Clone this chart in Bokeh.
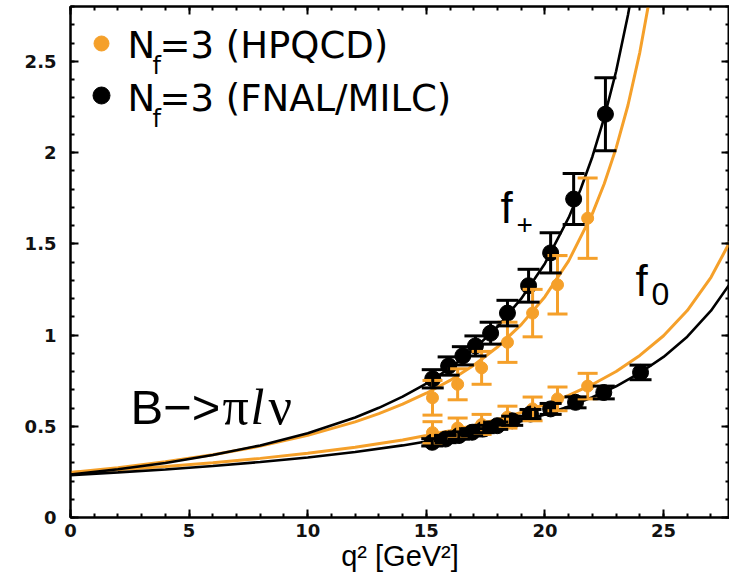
from bokeh.plotting import figure
from bokeh.models import (Range1d, LinearAxis, SingleIntervalTicker, Whisker, ColumnDataSource, Label,
                          TeeHead)
from bokeh.embed import file_html
from bokeh.resources import INLINE

# ---------------- data ----------------
# FNAL/MILC (black) lattice points
fnal_fp_q2 = [15.27, 15.94, 16.54, 17.07, 17.71, 18.42, 19.31, 20.24, 21.21, 22.55]
fnal_fp = [0.76, 0.83, 0.886, 0.94, 1.01, 1.12, 1.27, 1.45, 1.745, 2.21]
fnal_fp_err = [0.05, 0.05, 0.05, 0.055, 0.06, 0.07, 0.09, 0.11, 0.14, 0.20]

fnal_f0_q2 = [15.25, 15.81, 16.37, 16.93, 17.42, 17.99, 18.62, 19.39, 20.24, 21.29, 22.48, 24.03]
fnal_f0 = [0.412, 0.43, 0.449, 0.467, 0.485, 0.503, 0.53, 0.567, 0.595, 0.631, 0.685, 0.795]
fnal_f0_err = [0.02, 0.02, 0.02, 0.02, 0.02, 0.02, 0.025, 0.025, 0.03, 0.03, 0.035, 0.04]

# HPQCD (orange) lattice points
hpqcd_q2 = [15.26, 16.32, 17.33, 18.42, 19.48, 20.53, 21.8]
hpqcd_fp = [0.656, 0.73, 0.82, 0.96, 1.12, 1.275, 1.64]
hpqcd_fp_err = [0.095, 0.085, 0.09, 0.11, 0.13, 0.16, 0.22]
hpqcd_f0 = [0.465, 0.49, 0.51, 0.55, 0.595, 0.65, 0.72]
hpqcd_f0_err = [0.06, 0.055, 0.055, 0.06, 0.065, 0.065, 0.07]

# fit curves
curve_q2_fnal_fp = [0, 2, 4, 6, 8, 10, 12, 13, 14, 15, 16, 17, 18, 19, 20, 21, 21.5, 22, 22.5, 23, 23.5, 23.6]
curve_fnal_fp = [0.235, 0.264, 0.299, 0.342, 0.395, 0.462, 0.548, 0.601, 0.662, 0.734, 0.819, 0.921, 1.045,
                 1.199, 1.392, 1.643, 1.797, 1.977, 2.191, 2.445, 2.754, 2.825]
curve_q2_hpqcd_fp = [0, 2, 4, 6, 8, 10, 12, 13, 14, 15, 16, 17, 18, 19, 20, 21, 22, 22.5, 23, 23.5, 24, 24.4]
curve_hpqcd_fp = [0.246, 0.273, 0.305, 0.344, 0.391, 0.450, 0.524, 0.569, 0.621, 0.681, 0.751, 0.834, 0.934,
                  1.057, 1.210, 1.406, 1.665, 1.829, 2.024, 2.259, 2.549, 2.835]
curve_q2_f0 = [0, 2, 4, 6, 8, 10, 12, 14, 15, 16, 17, 18, 19, 20, 21, 22, 23, 24, 25, 26, 27, 27.8]
curve_fnal_f0 = [0.232, 0.247, 0.263, 0.282, 0.304, 0.329, 0.359, 0.395, 0.416, 0.439, 0.465, 0.494, 0.527,
                 0.565, 0.608, 0.659, 0.719, 0.792, 0.880, 0.991, 1.133, 1.281]
curve_hpqcd_f0 = [0.246, 0.262, 0.280, 0.300, 0.324, 0.352, 0.385, 0.425, 0.449, 0.475, 0.504, 0.537, 0.575,
                  0.619, 0.669, 0.729, 0.800, 0.888, 0.996, 1.134, 1.316, 1.511]

x_ticks = [0, 5, 10, 15, 20, 25]
y_ticks = [0, 0.5, 1, 1.5, 2, 2.5]
y_tick_labels = ["0", "0.5", "1", "1.5", "2", "2.5"]

ORANGE = "#F5A02A"
BLACK = "#000000"

W, H = 729, 579
L, T, B = 70, 6, 62
p = figure(width=W, height=H, output_backend="svg", toolbar_location=None,
           x_range=Range1d(0, 27.78), y_range=Range1d(0, 2.8),
           min_border_left=L, min_border_right=0, min_border_top=T, min_border_bottom=B,
           x_axis_location=None, y_axis_location=None)
p.grid.visible = False
p.outline_line_color = BLACK
p.outline_line_width = 2
p.background_fill_color = "white"
p.border_fill_color = "white"

def style_axis(ax):
    ax.axis_line_width = 2
    ax.axis_line_color = BLACK
    ax.major_tick_in = 8
    ax.major_tick_out = 0
    ax.minor_tick_in = 4
    ax.minor_tick_out = 0
    ax.major_tick_line_width = 2
    ax.minor_tick_line_width = 2
    ax.major_label_text_font = "DejaVu Sans"
    ax.major_label_text_font_style = "bold"
    ax.major_label_text_font_size = "18px"
    ax.major_label_text_color = "#111111"

xb = LinearAxis(ticker=SingleIntervalTicker(interval=5, num_minor_ticks=5))
style_axis(xb)
xb.major_label_standoff = 6
xb.axis_label = "q² [GeV²]"
xb.axis_label_text_font = "Liberation Sans"
xb.axis_label_text_font_style = "normal"
xb.axis_label_text_font_size = "29px"
xb.axis_label_text_color = BLACK
xb.axis_label_standoff = 0
p.add_layout(xb, "below")

yl = LinearAxis(ticker=SingleIntervalTicker(interval=0.5, num_minor_ticks=5))
style_axis(yl)
yl.major_label_standoff = 14
yl.major_label_overrides = {v: s for v, s in zip(y_ticks, y_tick_labels)}
p.add_layout(yl, "left")

# frame ticks on the top and right edges (no labels)
xt = LinearAxis(ticker=SingleIntervalTicker(interval=5, num_minor_ticks=5))
style_axis(xt)
xt.major_label_overrides = {v: "" for v in x_ticks}
xt.major_label_standoff = 0
p.add_layout(xt, "above")
yr = LinearAxis(ticker=SingleIntervalTicker(interval=0.5, num_minor_ticks=5))
style_axis(yr)
yr.major_label_overrides = {v: "" for v in y_ticks}
yr.major_label_standoff = 0
p.add_layout(yr, "right")

# curves
p.line(curve_q2_f0, curve_hpqcd_f0, line_color=ORANGE, line_width=3)
p.line(curve_q2_hpqcd_fp, curve_hpqcd_fp, line_color=ORANGE, line_width=3)
p.line(curve_q2_f0, curve_fnal_f0, line_color=BLACK, line_width=2.6)
p.line(curve_q2_fnal_fp, curve_fnal_fp, line_color=BLACK, line_width=2.6)

def errbars(xs, ys, es, color, size, cap):
    src = ColumnDataSource(dict(x=xs, y=ys, lo=[y - e for y, e in zip(ys, es)], hi=[y + e for y, e in zip(ys, es)]))
    w = Whisker(source=src, base="x", lower="lo", upper="hi", line_color=color, line_width=3, level="glyph",
                upper_head=TeeHead(size=cap, line_color=color, line_width=3),
                lower_head=TeeHead(size=cap, line_color=color, line_width=3))
    p.add_layout(w)
    p.scatter("x", "y", source=src, size=size, marker="circle", fill_color=color, line_color=color)

errbars(hpqcd_q2, hpqcd_fp, hpqcd_fp_err, ORANGE, 12, 20)
errbars(hpqcd_q2, hpqcd_f0, hpqcd_f0_err, ORANGE, 12, 20)
errbars(fnal_fp_q2, fnal_fp, fnal_fp_err, BLACK, 16, 22)
errbars(fnal_f0_q2, fnal_f0, fnal_f0_err, BLACK, 16, 22)

# helpers converting reference pixel positions to data coordinates
def dx(px):
    return (px - 70) / (659 / 27.78)

def dy(py):
    return (517 - py) / (511 / 2.8)

# legend
p.scatter([dx(101)], [dy(43)], size=15, marker="circle", fill_color=ORANGE, line_color=ORANGE)
p.scatter([dx(101)], [dy(95)], size=17, marker="circle", fill_color=BLACK, line_color=BLACK)
lf = "DejaVu Sans"
for base, lab in [(45, "=3 (HPQCD)"), (98, "=3 (FNAL/MILC)")]:
    p.add_layout(Label(x=dx(127), y=dy(base), text="N", text_font=lf, text_font_size="37px",
                       text_color=BLACK, text_baseline="alphabetic"))
    p.add_layout(Label(x=dx(152), y=dy(base + 20), text="f", text_font=lf, text_font_size="24px",
                       text_color=BLACK, text_baseline="alphabetic"))
    p.add_layout(Label(x=dx(159), y=dy(base), text=lab, text_font=lf, text_font_size="37px",
                       text_color=BLACK, text_baseline="alphabetic"))

font = "Liberation Sans"
# B -> pi l nu
p.add_layout(Label(x=dx(130), y=dy(406), text="B−>", text_font=font, text_font_size="49px",
                   text_color=BLACK, text_baseline="alphabetic"))
p.add_layout(Label(x=dx(222), y=dy(406), text="π", text_font="Liberation Serif", text_font_size="52px",
                   text_color=BLACK, text_baseline="alphabetic"))
p.add_layout(Label(x=dx(250), y=dy(406), text="l", text_font="Liberation Serif", text_font_style="italic",
                   text_font_size="50px", text_color=BLACK, text_baseline="alphabetic"))
p.add_layout(Label(x=dx(268), y=dy(406), text="ν", text_font="Liberation Serif", text_font_size="52px",
                   text_color=BLACK, text_baseline="alphabetic"))

# f+ and f0 labels
p.add_layout(Label(x=dx(500), y=dy(207), text="f", text_font=font, text_font_size="44px",
                   text_color=BLACK, text_baseline="alphabetic"))
p.add_layout(Label(x=dx(516), y=dy(224), text="+", text_font=font, text_font_size="28px",
                   text_color=BLACK, text_baseline="alphabetic"))
p.add_layout(Label(x=dx(635), y=dy(280), text="f", text_font=font, text_font_size="44px",
                   text_color=BLACK, text_baseline="alphabetic"))
p.add_layout(Label(x=dx(651), y=dy(293), text="0", text_font=font, text_font_size="32px",
                   text_color=BLACK, text_baseline="alphabetic"))

open("out.html", "w").write(file_html(p, INLINE))
